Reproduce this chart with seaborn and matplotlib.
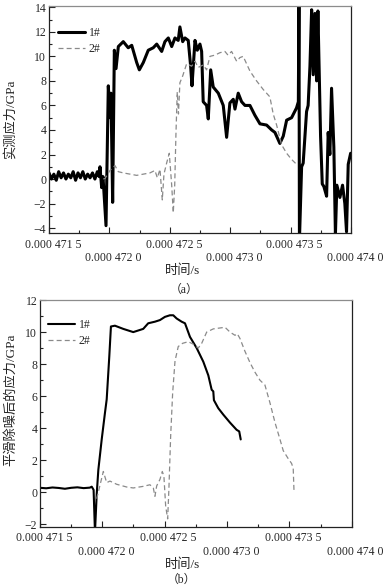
import numpy as np
import pandas as pd
import seaborn as sns
import matplotlib.pyplot as plt
from matplotlib.ticker import FixedLocator, MultipleLocator
from matplotlib.transforms import ScaledTranslation

# times are read in microseconds, converted to seconds for plotting
# (a) measured stress, specimen 1#
t_a1 = [471.50, 471.52, 471.54, 471.56, 471.58, 471.60, 471.62, 471.64, 471.66, 471.68,
        471.70, 471.72, 471.74, 471.76, 471.78, 471.80, 471.82, 471.84, 471.86, 471.88,
        471.90, 471.915, 471.922, 471.936, 471.947, 471.972, 471.991, 472.005, 472.013, 472.027,
        472.041, 472.055, 472.074, 472.115, 472.156, 472.185, 472.226, 472.248, 472.281, 472.322,
        472.363, 472.392, 472.433, 472.460, 472.488, 472.516, 472.543, 472.570, 472.584, 472.607,
        472.626, 472.653, 472.673, 472.684, 472.709, 472.728, 472.750, 472.764, 472.777, 472.805,
        472.819, 472.839, 472.860, 472.902, 472.943, 472.971, 472.998, 473.026, 473.040, 473.067,
        473.095, 473.123, 473.164, 473.205, 473.247, 473.302, 473.344, 473.371, 473.412, 473.440,
        473.468, 473.509, 473.550, 473.565, 473.570, 473.574, 473.592, 473.605, 473.633, 473.646,
        473.661, 473.675, 473.688, 473.702, 473.716, 473.727, 473.749, 473.763, 473.776, 473.799,
        473.812, 473.826, 473.840, 473.859, 473.872, 473.884, 473.909, 473.931, 473.950, 473.964,
        473.978, 473.998]
v_a1 = [0.5, 0.0, 0.4, -0.1, 0.6, 0.1, 0.5, 0.0, 0.4, 0.1,
        0.6, -0.1, 0.5, 0.1, 0.6, 0.0, 0.4, 0.1, 0.5, 0.0,
        0.6, 0.2, 1.0, -0.7, 0.2, -3.8, 7.6, 5.0, 7.0, -1.9,
        10.5, 9.0, 10.8, 11.2, 10.7, 10.9, 9.5, 8.9, 9.5, 10.5,
        10.7, 11.0, 10.4, 11.2, 11.5, 10.8, 11.5, 11.3, 12.4, 11.2,
        11.5, 11.3, 9.2, 7.6, 11.3, 10.5, 11.0, 10.4, 6.3, 6.0,
        4.9, 8.9, 7.5, 7.0, 6.0, 3.4, 6.2, 6.5, 5.7, 7.0,
        6.3, 6.0, 6.0, 5.2, 4.5, 4.4, 4.0, 3.8, 2.9, 3.5,
        4.8, 5.0, 5.8, 6.3, 15.0, -5.0, 1.0, 1.3, 5.5, 6.0,
        9.2, 13.8, 8.5, 13.5, 8.0, 13.7, 3.5, -0.4, -0.6, -1.4,
        3.8, 2.0, 7.4, 2.6, -4.5, -0.5, -1.5, -0.5, -2.0, -4.3,
        1.2, 2.1]

# (a) measured stress, specimen 2#
t_a2 = [471.950, 471.964, 472.005, 472.046, 472.074, 472.115, 472.171, 472.226, 472.281, 472.336,
        472.377, 472.397, 472.419, 472.438, 472.452, 472.474, 472.496, 472.516, 472.529, 472.541,
        472.551, 472.562, 472.572, 472.584, 472.607, 472.640, 472.681, 472.709, 472.736, 472.777,
        472.805, 472.833, 472.874, 472.916, 472.957, 472.982, 473.012, 473.054, 473.081, 473.108,
        473.164, 473.219, 473.274, 473.329, 473.357, 473.385, 473.426, 473.468, 473.509, 473.550]
v_a2 = [0.0, 0.05, 0.7, 1.1, 0.6, 0.5, 0.4, 0.3, 0.4, 0.5,
        0.7, 0.1, 0.8, -1.7, 0.4, 1.3, 2.1, -0.5, -2.75, -0.5,
        3.6, 7.1, 5.3, 7.85, 8.4, 9.4, 9.2, 9.6, 9.1, 9.3,
        8.9, 10.0, 10.1, 10.3, 10.4, 10.1, 10.4, 9.6, 9.9, 10.0,
        8.8, 8.0, 7.3, 6.7, 5.3, 4.4, 2.8, 2.1, 1.6, 1.2]

# (b) smoothed stress, specimen 1#
t_b1 = [471.50, 471.55, 471.60, 471.65, 471.70, 471.75, 471.80, 471.85, 471.90, 471.915,
        471.930, 471.941, 471.955, 471.968, 471.995, 472.021, 472.035, 472.056, 472.069, 472.101,
        472.168, 472.248, 472.328, 472.368, 472.422, 472.462, 472.502, 472.542, 472.569, 472.596,
        472.636, 472.663, 472.703, 472.757, 472.810, 472.850, 472.877, 472.890, 472.895, 472.930,
        472.970, 473.024, 473.077, 473.098, 473.110]
v_b1 = [0.28, 0.25, 0.30, 0.27, 0.22, 0.28, 0.31, 0.26, 0.29, 0.35,
        0.15, -2.5, -0.1, 1.4, 3.3, 4.95, 5.8, 8.5, 10.35, 10.4,
        10.2, 10.0, 10.2, 10.55, 10.65, 10.75, 10.95, 11.05, 11.05, 10.85,
        10.65, 10.55, 9.7, 9.0, 8.15, 7.3, 6.4, 6.3, 5.75, 5.25,
        4.85, 4.35, 3.9, 3.8, 3.3]

# (b) smoothed stress, specimen 2#
t_b2 = [471.955, 472.008, 472.035, 472.061, 472.115, 472.195, 472.248, 472.328, 472.382, 472.409,
        472.422, 472.436, 472.462, 472.481, 472.494, 472.508, 472.524, 472.534, 472.548, 472.564,
        472.583, 472.609, 472.644, 472.689, 472.729, 472.769, 472.797, 472.837, 472.890, 472.984,
        473.024, 473.064, 473.082, 473.104, 473.144, 473.184, 473.224, 473.264, 473.304, 473.344,
        473.385, 473.425, 473.451, 473.491, 473.518, 473.531, 473.537]
v_b2 = [-0.4, 1.3, 0.6, 0.7, 0.5, 0.33, 0.27, 0.37, 0.47, 0.27,
        -0.25, 0.4, 0.8, 1.3, 1.0, -0.86, -1.66, 0.22, 3.5, 6.2,
        8.2, 9.1, 9.3, 9.4, 9.25, 9.0, 9.3, 10.0, 10.2, 10.3,
        10.0, 9.8, 9.9, 9.6, 8.8, 8.1, 7.5, 7.0, 6.7, 5.6,
        4.35, 3.3, 2.6, 2.1, 1.8, 1.5, 0.15]

tick_us = [471.5, 472.0, 472.5, 473.0, 473.5, 474.0]
tick_labels = ['0.000 471 5', '0.000 472 0', '0.000 472 5',
               '0.000 473 0', '0.000 473 5', '0.000 474 0']
series_names = ['1#', '2#']

sns.set_style('ticks')
plt.rcParams['font.family'] = ['Liberation Serif', 'Noto Sans CJK SC']
plt.rcParams['axes.unicode_minus'] = True

fig = plt.figure(figsize=(3.86, 5.88), dpi=100)
ax1 = fig.add_axes([0.127, 0.6037, 0.782, 0.386])
ax2 = fig.add_axes([0.1036, 0.1042, 0.8075, 0.3855])


def draw(ax, t1, v1, t2, v2, lw1):
    sns.lineplot(x=np.array(t1) * 1e-6, y=v1, ax=ax, color='black', linewidth=lw1,
                 sort=False, estimator=None, label=series_names[0])
    sns.lineplot(x=np.array(t2) * 1e-6, y=v2, ax=ax, color='#8a8a8a', linewidth=0.9,
                 linestyle=(0, (4, 2.5)), sort=False, estimator=None, label=series_names[1])


def style(ax, ylim, ylabel, ylab_x, ylab_y, xlab_x, leg_xy):
    ax.set_xlim(tick_us[0] * 1e-6, tick_us[-1] * 1e-6)
    ax.set_ylim(*ylim)
    ticks = [t * 1e-6 for t in tick_us]
    ax.xaxis.set_major_locator(FixedLocator(ticks))
    ax.xaxis.set_minor_locator(FixedLocator([t + 0.25e-6 for t in ticks[:-1]]))
    ax.set_xticklabels([lab if i % 2 == 0 else '\n' + lab for i, lab in enumerate(tick_labels)])
    ax.yaxis.set_major_locator(MultipleLocator(2))
    ax.yaxis.set_minor_locator(MultipleLocator(1))
    ax.tick_params(which='both', direction='in', labelsize=8.5, width=0.8, color='#222222')
    ax.tick_params(which='major', length=4, pad=2)
    ax.tick_params(which='minor', length=2.5)
    ax.tick_params(axis='x', which='major', pad=4)
    shift = ScaledTranslation(4 / 100, 0, fig.dpi_scale_trans)
    for lab in ax.get_xticklabels():
        lab.set_transform(lab.get_transform() + shift)
    for side in ['left', 'bottom', 'right']:
        ax.spines[side].set_color('#222222')
        ax.spines[side].set_linewidth(0.9)
    ax.spines['top'].set_color('#8c8c8c')
    ax.spines['top'].set_linewidth(0.9)
    ax.set_ylabel(ylabel, fontsize=9.5)
    ax.yaxis.set_label_coords(ylab_x, ylab_y)
    ax.set_xlabel('时间/s', fontsize=9.5)
    ax.xaxis.set_label_coords(xlab_x, -0.14)
    ax.legend(loc='upper left', bbox_to_anchor=leg_xy, frameon=False, fontsize=8.5,
              handlelength=2.3, handletextpad=0.3, labelspacing=0.35,
              borderpad=0, borderaxespad=0)


draw(ax1, t_a1, v_a1, t_a2, v_a2, 2.2)
style(ax1, (-4.4, 14.1), '实测应力/GPa', -0.107, 0.5, 0.444, (0.03, 0.907))

draw(ax2, t_b1, v_b1, t_b2, v_b2, 1.5)
style(ax2, (-2.15, 12.0), '平滑除噪后的应力/GPa', -0.072, 0.56, 0.459, (0.026, 0.916))

fig.text(0.477, 1 - 290 / 588, '（a）', ha='center', va='center', fontsize=8.5)
fig.text(0.469, 1 - 580 / 588, '（b）', ha='center', va='center', fontsize=8.5)

fig.savefig('out.png', dpi=100)
